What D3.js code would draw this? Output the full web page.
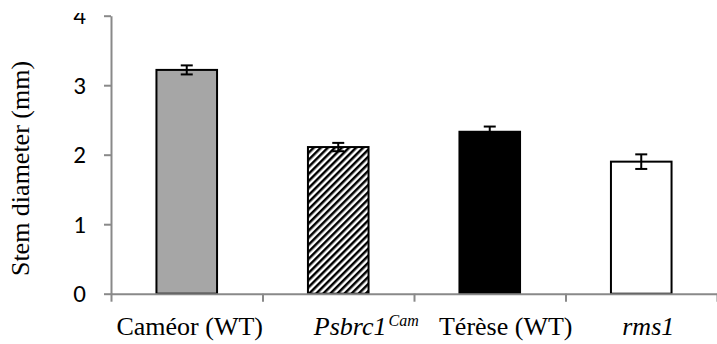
<!DOCTYPE html>
<html><head><meta charset="utf-8">
<script src="https://cdn.jsdelivr.net/npm/d3@7"></script>
</head><body style="margin:0">
<svg id="chart" width="717" height="344"></svg>
<script>
// ---- data ----
const categories = ["Caméor (WT)", "Psbrc1Cam", "Térèse (WT)", "rms1"];
const values = [3.22, 2.11, 2.33, 1.90];
const errors = [0.065, 0.06, 0.075, 0.105];
const yTicks = [0, 1, 2, 3, 4];
const yTitle = "Stem diameter (mm)";

// ---- layout ----
const W = 717, H = 344;
const plot = { left: 111, right: 717, top: 15.7, bottom: 293.7 };
const labelDx = [3, 28, 16, 7];
const fills = ["#a6a6a6", "url(#hatch)", "#000000", "#ffffff"];
const axisColor = "#898989";
const SERIF = '"Liberation Serif"';
const SANS = '"Carlito"';

const svg = d3.select("#chart");
const defs = svg.append("defs");

const pat = defs.append("pattern")
  .attr("id", "hatch")
  .attr("patternUnits", "userSpaceOnUse")
  .attr("width", 5).attr("height", 5)
  .attr("patternTransform", "rotate(45)");
pat.append("rect").attr("width", 5).attr("height", 5).attr("fill", "#fff");
pat.append("rect").attr("width", 2.5).attr("height", 5).attr("fill", "#000");

defs.append("clipPath").attr("id", "yclip")
  .append("rect").attr("x", 0).attr("y", 13).attr("width", W).attr("height", H);

const x = d3.scaleBand().domain(categories)
  .range([plot.left, plot.right]).paddingInner(0.6).paddingOuter(0.3);
const y = d3.scaleLinear().domain([0, 4]).range([plot.bottom, plot.top]);
const xb = d3.scaleLinear().domain([0, categories.length]).range([plot.left, plot.right]);

// bars
svg.append("g").selectAll("rect").data(categories).join("rect")
  .attr("x", d => x(d))
  .attr("y", (d, i) => y(values[i]))
  .attr("width", x.bandwidth())
  .attr("height", (d, i) => y(0) - y(values[i]))
  .attr("fill", (d, i) => fills[i])
  .attr("stroke", "#000").attr("stroke-width", 2);

// x axis (category boundaries)
const gx = svg.append("g").attr("transform", `translate(0,${y(0)})`)
  .call(d3.axisBottom(xb).tickValues(d3.range(0, categories.length + 1))
    .tickSize(8).tickSizeOuter(0).tickFormat(""));
gx.select(".domain").attr("stroke", axisColor).attr("stroke-width", 2);
gx.selectAll(".tick line").attr("stroke", axisColor).attr("stroke-width", 2);

// y axis: lines from d3 axis, labels drawn separately
const gy = svg.append("g").attr("transform", `translate(${plot.left},0)`)
  .call(d3.axisLeft(y).tickValues(yTicks).tickFormat("")
    .tickSize(7).tickSizeOuter(0));
gy.select(".domain").attr("stroke", axisColor).attr("stroke-width", 2);
gy.selectAll(".tick line").attr("stroke", axisColor).attr("stroke-width", 2);

const ylab = svg.append("g").attr("clip-path", "url(#yclip)");
yTicks.forEach(t => {
  ylab.append("text")
    .attr("x", plot.left - 25).attr("y", y(t)).attr("dy", "0.34em")
    .attr("text-anchor", "end").attr("fill", "#000")
    .style("font-family", SANS).style("font-size", "25px")
    .text(d3.format("d")(t));
});

// error bars
const cap = 6;
const eb = svg.append("g").attr("stroke", "#000").attr("stroke-width", 2).attr("fill", "none");
categories.forEach((c, i) => {
  const cx = x(c) + x.bandwidth() / 2;
  const y1 = y(values[i] + errors[i]), y2 = y(values[i] - errors[i]);
  eb.append("line").attr("x1", cx).attr("x2", cx).attr("y1", y1).attr("y2", y2);
  eb.append("line").attr("x1", cx - cap).attr("x2", cx + cap).attr("y1", y1).attr("y2", y1);
  eb.append("line").attr("x1", cx - cap).attr("x2", cx + cap).attr("y1", y2).attr("y2", y2);
});

// category labels
categories.forEach((c, i) => {
  const t = svg.append("text")
    .attr("x", x(c) + x.bandwidth() / 2 + labelDx[i])
    .attr("y", 335)
    .attr("text-anchor", "middle").attr("fill", "#000")
    .style("font-family", SERIF).style("font-size", "26px");
  if (c === "Psbrc1Cam") {
    t.append("tspan").style("font-style", "italic").text("Psbrc1");
    t.append("tspan").style("font-style", "italic")
      .style("font-size", "16px").attr("dx", 2).attr("dy", -9).text("Cam");
  } else if (c === "rms1") {
    t.style("font-style", "italic").text(c);
  } else {
    t.text(c);
  }
});

// y title
svg.append("text")
  .attr("transform", `translate(29,${168.5}) rotate(-90)`)
  .attr("text-anchor", "middle").attr("fill", "#000")
  .style("font-family", SERIF).style("font-size", "26px")
  .text(yTitle);
</script>
</body>
</html>
